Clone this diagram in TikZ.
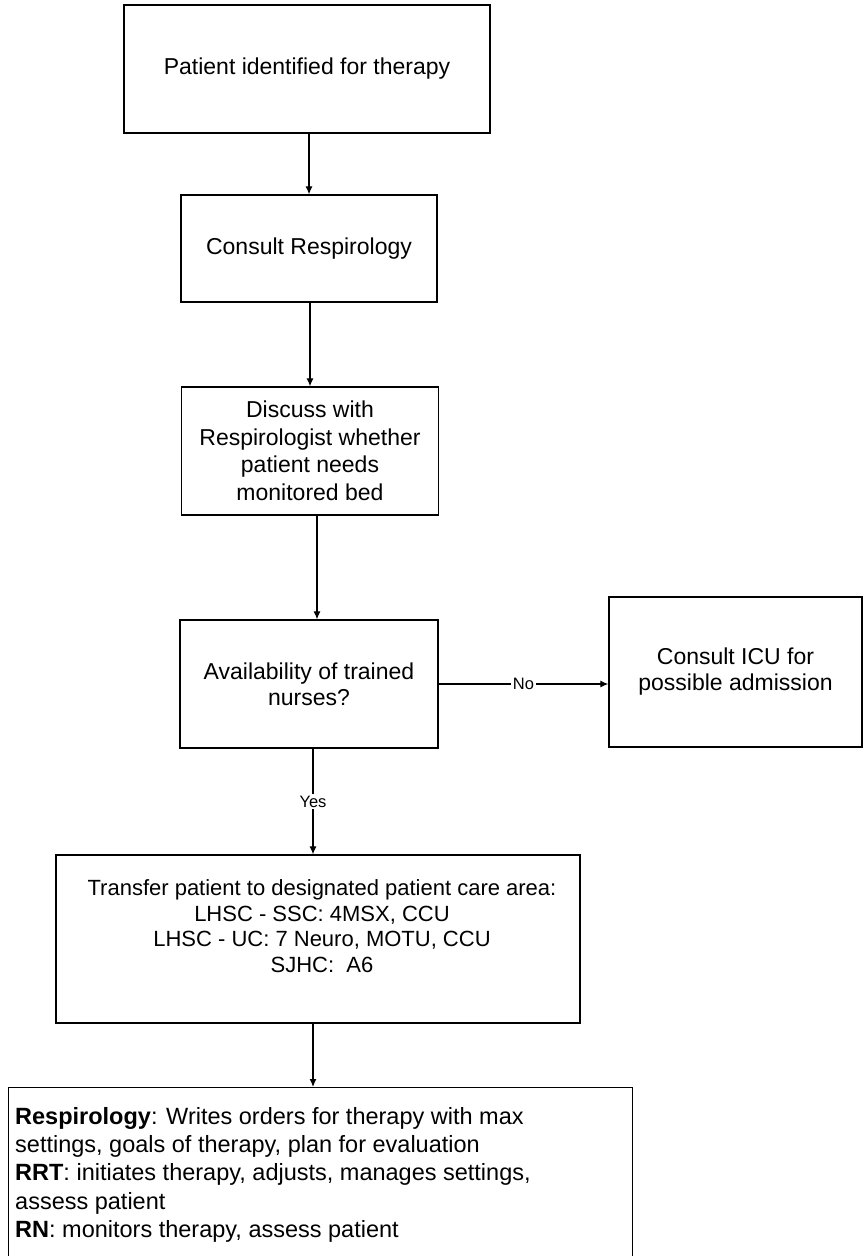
\documentclass[tikz,border=0pt]{standalone}
\usepackage{fontspec}
\setmainfont{Liberation Sans}
\usetikzlibrary{arrows.meta}
\usetikzlibrary{positioning}

\tikzset{
  stepbox/.style={draw=black, line width=1.3pt, align=center, inner sep=4pt},
  flow/.style={draw=black, line width=1.2pt, -{Latex[length=8pt,width=7pt]}},
  answer/.style={fill=white, inner sep=1.5pt, font=\fontsize{16.5}{18}\selectfont},
}

\begin{document}
\begin{tikzpicture}[x=1pt, y=-1pt, font=\fontsize{23}{26}\selectfont]
\useasboundingbox (0,0) rectangle (864,1256);
\clip (0,0) rectangle (864,1256);

\node[stepbox, minimum width=366pt, minimum height=128pt] (ident) at (307,69) {Patient identified for therapy};
\node[stepbox, minimum width=256pt, minimum height=107pt] (resp) at (309,248.5) {Consult Respirology};
\node[stepbox, minimum width=257pt, minimum height=128pt, font=\fontsize{23}{27.5}\selectfont] (discuss) at (310,451)
  {Discuss with\\Respirologist whether\\patient needs\\monitored bed};
\node[stepbox, minimum width=258pt, minimum height=128pt] (avail) at (309,684) {Availability of trained\\nurses?};
\node[stepbox, minimum width=253pt, minimum height=150pt] (icu) at (735.5,672) {Consult ICU for\\possible admission};
\node[stepbox, minimum width=524pt, minimum height=168pt] (transfer) at (318,939) {};
\node[align=center, font=\fontsize{22}{25.5}\selectfont] (transfertxt) at (322,926)
  {Transfer patient to designated patient care area:\\LHSC - SSC: 4MSX, CCU\\LHSC - UC: 7 Neuro, MOTU, CCU\\SJHC:\ \ A6};
\node[stepbox, anchor=north west, minimum width=624pt, minimum height=230pt] (orders) at (8,1087) {};
\node[anchor=north west, align=left, inner sep=0pt, font=\fontsize{23.5}{28.3}\selectfont] (orderstxt) at (15,1107)
  {\textbf{Respirology}: Writes orders for therapy with max\\
   settings, goals of therapy, plan for evaluation\\
   \textbf{RRT}: initiates therapy, adjusts, manages settings,\\
   assess patient\\
   \textbf{RN}: monitors therapy, assess patient};

% connectors
\draw[flow] (ident.south -| resp.north) -- (resp.north);
\draw[flow] ([xshift=1pt]resp.south) -- ([xshift=1pt]resp.south |- discuss.north);
\draw[flow] ([xshift=7pt]discuss.south) -- ([xshift=7pt]discuss.south |- avail.north);
\draw[flow] (avail.east) -- node[answer] (no) {No} (avail.east -| icu.west);
\draw[flow] ([xshift=4pt]avail.south) -- node[answer] (yes) {Yes} ([xshift=4pt]avail.south |- transfer.north);
\draw[flow] ([xshift=4pt]avail.south |- transfer.south) -- ([xshift=4pt]avail.south |- orders.north);
\end{tikzpicture}
\end{document}
